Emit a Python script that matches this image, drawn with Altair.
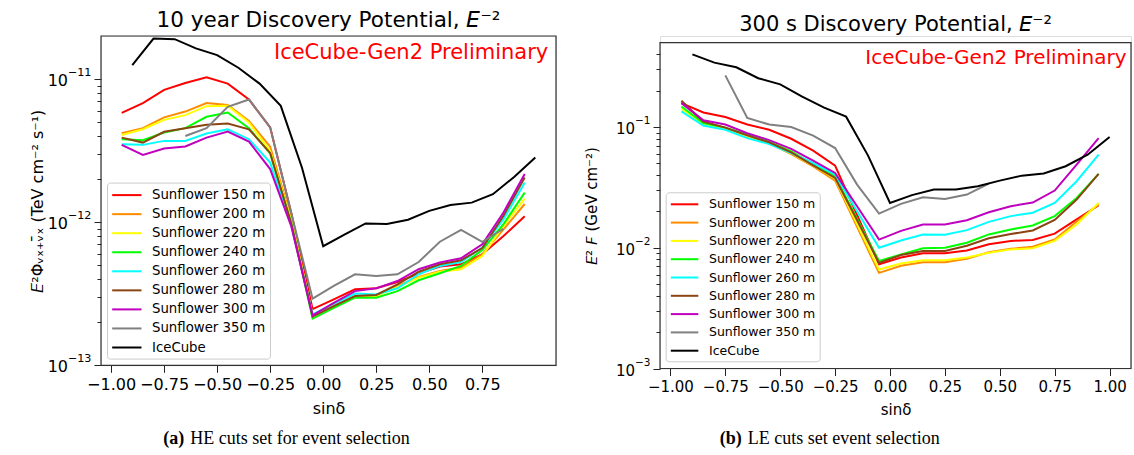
import altair as alt
import pandas as pd

# ---------------- data ----------------
SERIES = ["Sunflower 150 m", "Sunflower 200 m", "Sunflower 220 m", "Sunflower 240 m",
          "Sunflower 260 m", "Sunflower 280 m", "Sunflower 300 m", "Sunflower 350 m", "IceCube"]
COLORS = ["#ff0000", "#ff8c00", "#ffff00", "#00ff00", "#00ffff", "#8b4513", "#bf00bf", "#808080", "#000000"]

x_sf = [-0.95, -0.85, -0.75, -0.65, -0.55, -0.45, -0.35, -0.25, -0.15, -0.05,
        0.05, 0.15, 0.25, 0.35, 0.45, 0.55, 0.65, 0.75, 0.85, 0.95]
x_ic = [-0.9, -0.8, -0.7, -0.6, -0.5, -0.4, -0.3, -0.2, -0.1, 0.0,
        0.1, 0.2, 0.3, 0.4, 0.5, 0.6, 0.7, 0.8, 0.9, 1.0]
x_he350 = [-0.65, -0.55, -0.45, -0.35, -0.25, -0.15, -0.05, 0.05, 0.15, 0.25,
           0.35, 0.45, 0.55, 0.65, 0.75, 0.85]
x_le350 = [-0.75, -0.65, -0.55, -0.45, -0.35, -0.25, -0.15, -0.05, 0.05, 0.15,
           0.25, 0.35, 0.45]

# (a) HE cuts, 10 year discovery potential (TeV cm^-2 s^-1)
he150 = [5.8e-12, 6.8e-12, 8.4e-12, 9.4e-12, 1.03e-11, 9.3e-12, 7.2e-12, 4.6e-12, 1.15e-12, 2.47e-13,
         2.89e-13, 3.4e-13, 3.45e-13, 3.82e-13, 4.37e-13, 4.9e-13, 5.08e-13, 5.97e-13, 8.0e-13, 1.1e-12]
he200 = [4.19e-12, 4.54e-12, 5.4e-12, 5.93e-12, 6.8e-12, 6.6e-12, 5.1e-12, 3.37e-12, 1.05e-12, 2.23e-13,
         2.6e-13, 3.02e-13, 3.08e-13, 3.58e-13, 4.14e-13, 4.56e-13, 4.82e-13, 5.97e-13, 8.9e-13, 1.34e-12]
he220 = [4.07e-12, 4.46e-12, 5.19e-12, 5.6e-12, 6.47e-12, 6.5e-12, 4.97e-12, 3.15e-12, 1.02e-12, 2.23e-13,
         2.6e-13, 3.02e-13, 3.05e-13, 3.52e-13, 4.1e-13, 4.51e-13, 4.69e-13, 5.8e-13, 9.4e-13, 1.46e-12]
he240 = [3.8e-12, 3.74e-12, 4.23e-12, 4.54e-12, 5.45e-12, 5.84e-12, 4.54e-12, 3.02e-12, 0.98e-12, 2.12e-13,
         2.52e-13, 2.97e-13, 2.97e-13, 3.3e-13, 3.93e-13, 4.4e-13, 4.95e-13, 6.4e-13, 9.7e-13, 1.61e-12]
he260 = [3.51e-12, 3.47e-12, 3.7e-12, 3.7e-12, 4.17e-12, 4.46e-12, 3.8e-12, 2.61e-12, 0.95e-12, 2.27e-13,
         2.69e-13, 3.17e-13, 3.13e-13, 3.45e-13, 4.33e-13, 4.95e-13, 5.27e-13, 6.65e-13, 1.05e-12, 1.89e-12]
he280 = [3.9e-12, 3.6e-12, 4.28e-12, 4.54e-12, 4.79e-12, 4.9e-12, 4.46e-12, 3.05e-12, 0.97e-12, 2.19e-13,
         2.59e-13, 3.05e-13, 3.1e-13, 3.68e-13, 4.51e-13, 5.08e-13, 5.42e-13, 6.6e-13, 1.11e-12, 2.05e-12]
he300 = [3.47e-12, 2.95e-12, 3.27e-12, 3.38e-12, 3.9e-12, 4.3e-12, 3.66e-12, 2.35e-12, 0.93e-12, 2.23e-13,
         2.73e-13, 3.3e-13, 3.45e-13, 3.88e-13, 4.69e-13, 5.22e-13, 5.6e-13, 7.0e-13, 1.17e-12, 2.17e-12]
he350 = [4.0e-12, 4.54e-12, 6.4e-12, 7.2e-12, 4.6e-12, 1.15e-12, 2.92e-13, 3.59e-13, 4.32e-13, 4.2e-13,
         4.32e-13, 5.27e-13, 7.3e-13, 8.83e-13, 7.3e-13, 9.0e-13]
heIC = [1.25e-11, 1.92e-11, 1.90e-11, 1.64e-11, 1.47e-11, 1.2e-11, 9.3e-12, 6.5e-12, 2.4e-12, 6.8e-13,
        8.2e-13, 9.8e-13, 9.7e-13, 1.04e-12, 1.2e-12, 1.32e-12, 1.37e-12, 1.57e-12, 2.07e-12, 2.83e-12]

# (b) LE cuts, 300 s discovery potential (GeV cm^-2)
le150 = [0.158, 0.132, 0.121, 0.105, 0.095, 0.080, 0.0638, 0.048, 0.0187, 0.0073,
         0.0083, 0.009, 0.009, 0.0095, 0.0107, 0.0114, 0.0116, 0.0131, 0.0172, 0.0225]
le200 = [0.163, 0.110, 0.099, 0.0838, 0.0733, 0.0598, 0.0473, 0.036, 0.0149, 0.0062,
         0.0071, 0.0076, 0.0076, 0.0081, 0.0092, 0.0098, 0.0102, 0.0117, 0.0165, 0.0229]
le220 = [0.142, 0.106, 0.098, 0.0838, 0.0733, 0.0607, 0.048, 0.0374, 0.0157, 0.0066,
         0.0074, 0.0079, 0.0079, 0.0083, 0.0091, 0.0097, 0.0099, 0.0114, 0.0156, 0.0235]
le240 = [0.148, 0.108, 0.099, 0.0865, 0.0752, 0.063, 0.0494, 0.0392, 0.0174, 0.00776,
         0.0088, 0.0099, 0.01, 0.011, 0.0129, 0.0142, 0.0153, 0.0183, 0.0259, 0.0409]
le260 = [0.135, 0.103, 0.095, 0.081, 0.0724, 0.061, 0.0504, 0.0404, 0.0201, 0.01,
         0.0115, 0.0129, 0.0128, 0.014, 0.0164, 0.0183, 0.0195, 0.0235, 0.0356, 0.0591]
le280 = [0.165, 0.111, 0.099, 0.0853, 0.0747, 0.0618, 0.0482, 0.0379, 0.0169, 0.0075,
         0.0087, 0.0094, 0.0094, 0.0104, 0.012, 0.013, 0.0139, 0.017, 0.0251, 0.0409]
le300 = [0.158, 0.114, 0.105, 0.089, 0.078, 0.066, 0.0527, 0.0417, 0.0221, 0.0117,
         0.0138, 0.0156, 0.0156, 0.0169, 0.0197, 0.0221, 0.0237, 0.0298, 0.0489, 0.0811]
le350 = [0.268, 0.119, 0.105, 0.1, 0.085, 0.067, 0.0334, 0.0192, 0.0231, 0.0262,
         0.0254, 0.0276, 0.034]
leIC = [0.40, 0.342, 0.313, 0.254, 0.226, 0.179, 0.145, 0.122, 0.058, 0.0235,
        0.0273, 0.0304, 0.0304, 0.0324, 0.036, 0.0396, 0.0412, 0.0474, 0.059, 0.0827]

# tick labels
x_ticks_a = [-1.0, -0.75, -0.5, -0.25, 0.0, 0.25, 0.5, 0.75]
x_ticks_b = [-1.0, -0.75, -0.5, -0.25, 0.0, 0.25, 0.5, 0.75, 1.0]
dec_exp_a = [-13, -12, -11]
dec_exp_b = [-3, -2, -1]

FONT = "DejaVu Sans"


def long_df(xs_list, ys_list):
    rows = []
    for i, (name, xs, ys) in enumerate(zip(SERIES, xs_list, ys_list)):
        for x, y in zip(xs, ys):
            rows.append({"series": name, "x": x, "y": y, "k": i})
    return pd.DataFrame(rows)


def log_ticks(exps, top_mult):
    vals = []
    for e in exps[:-1]:
        for k in range(1, 10):
            vals.append(float(f"{k}e{e}"))
    for k in range(1, top_mult + 1):
        vals.append(float(f"{k}e{exps[-1]}"))
    return vals


def panel(df, W, H, top, ydom, exps, top_mult, xticks, ytitle, title, title_fs, title_off,
          tick_fs, exp_w, leg_fs, leg_x, leg_y, leg_r, leg_off, leg_rowpad,
          pre_x, pre_y, pre_fs, ytitle_x, cap_tag, cap_text, cap_x, cap_tx, cap_y):
    yvals = log_ticks(exps, top_mult)
    dec_vals = [float(f"1e{e}") for e in exps]
    test = "indexof([" + ",".join(repr(v) for v in dec_vals) + "], datum.value) >= 0"
    yscale = alt.Scale(type="log", domain=ydom, nice=False, range=[H, top])
    xscale = alt.Scale(domain=[-1.0475, 1.0975], nice=False, zero=False)

    xaxis = alt.Axis(values=xticks, format=".2f", tickSize=7, labelPadding=4,
                     labelFontSize=tick_fs, labelFont=FONT, labelColor="black",
                     title="sinδ", titleFont=FONT, titleFontSize=tick_fs, titleFontWeight="normal",
                     titleColor="black", titlePadding=8, grid=False, domain=False,
                     tickColor="#222", labelFlush=False, labelOverlap=False)
    yaxis = alt.Axis(values=yvals, labels=False,
                     tickSize={"condition": {"test": test, "value": 7}, "value": 4},
                     title=ytitle, titleFont=FONT, titleFontSize=tick_fs, titleFontWeight="normal",
                     titleColor="black", titleX=ytitle_x, titleY=(H + top) / 2, titleAngle=-90,
                     titleBaseline="middle", titleAlign="center",
                     grid=False, domain=False, tickColor="#222")
    legend = alt.Legend(orient="none", legendX=leg_x, legendY=leg_y, title=None,
                        symbolType="M-1,0L3,0", symbolSize=(2 * leg_r) ** 2, symbolStrokeWidth=2,
                        labelFont=FONT, labelFontSize=leg_fs, labelColor="black", labelOffset=leg_off,
                        rowPadding=leg_rowpad, padding=4, strokeColor="#cccccc",
                        fillColor="rgba(255,255,255,0.8)", cornerRadius=3, labelLimit=400)

    lines = alt.Chart(df).mark_line(strokeWidth=2, clip=True).encode(
        x=alt.X("x:Q", scale=xscale, axis=xaxis),
        y=alt.Y("y:Q", scale=yscale, axis=yaxis),
        color=alt.Color("series:N", scale=alt.Scale(domain=SERIES, range=COLORS), legend=legend),
        order=alt.Order("x:Q"),
    )

    # plot frame (matplotlib spines)
    frame = alt.Chart(pd.DataFrame({"f": [0]})).mark_rect(
        fillOpacity=0, stroke="#333333", strokeWidth=1.2
    ).encode(x=alt.value(0), x2=alt.value(W), y=alt.value(top), y2=alt.value(H))

    # decade tick labels written as 10 with a raised exponent
    ddf = pd.DataFrame({"y": dec_vals, "base": ["10"] * len(exps),
                        "exp": ["−" + str(-e) for e in exps]})
    lab_exp = alt.Chart(ddf).mark_text(
        align="right", baseline="middle", font=FONT, fontSize=round(tick_fs * 0.7, 1),
        color="black", dy=-6
    ).encode(text="exp:N", x=alt.value(-9.5), y=alt.Y("y:Q", scale=yscale, axis=yaxis))
    lab_base = alt.Chart(ddf).mark_text(
        align="right", baseline="middle", font=FONT, fontSize=tick_fs, color="black", dy=2
    ).encode(text="base:N", x=alt.value(-9.5 - exp_w), y=alt.Y("y:Q", scale=yscale, axis=yaxis))

    pre = alt.Chart(pd.DataFrame({"t": ["IceCube-Gen2 Preliminary"]})).mark_text(
        align="right", baseline="alphabetic", font=FONT, fontSize=pre_fs, color="#ff0000"
    ).encode(text="t:N", x=alt.value(pre_x), y=alt.value(pre_y))
    tag = alt.Chart(pd.DataFrame({"t": [cap_tag]})).mark_text(
        align="left", baseline="alphabetic", font="Liberation Serif", fontSize=18,
        fontWeight="bold", color="black"
    ).encode(text="t:N", x=alt.value(cap_x), y=alt.value(cap_y))
    cap = alt.Chart(pd.DataFrame({"t": [cap_text]})).mark_text(
        align="left", baseline="alphabetic", font="Liberation Serif", fontSize=18, color="black"
    ).encode(text="t:N", x=alt.value(cap_tx), y=alt.value(cap_y))

    return alt.layer(lines, frame, lab_exp, lab_base, pre, tag, cap).properties(
        width=W, height=H,
        title=alt.TitleParams(text=title, font=FONT, fontSize=title_fs, fontWeight="normal",
                              color="black", anchor="middle", offset=title_off),
    )


df_a = long_df([x_sf] * 7 + [x_he350, x_ic], [he150, he200, he220, he240, he260, he280, he300, he350, heIC])
df_b = long_df([x_sf] * 7 + [x_le350, x_ic], [le150, le200, le220, le240, le260, le280, le300, le350, leIC])

left = panel(df_a, 455, 329.3, 0, [1e-13, 2e-11], dec_exp_a, 1, x_ticks_a,
             "𝘌²Φᵥₓ₊ᵥ̄ₓ (TeV cm⁻² s⁻¹)", "10 year Discovery Potential, 𝘌⁻²", 21.5, 4,
             16, 23.5, 13.3, 6, 146.6, 7.33, 24, 4.05,
             447.3, 23.3, 21, -64, "(a)", "HE cuts set for event selection", 62.3, 89.3, 408)
right = panel(df_b, 471, 332.5, 6.7, [1e-3, 0.5], dec_exp_b, 4, x_ticks_b,
              "𝘌² 𝘍 (GeV cm⁻²)", "300 s Discovery Potential, 𝘌⁻²", 21, 1,
              15, 15.5, 12.5, 5.7, 156.3, 6.875, 23.25, 3.3,
              466.6, 27.8, 20, -69, "(b)", "LE cuts set event selection", 59.7, 87.7, 408)

chart = alt.hconcat(left, right, spacing=25).resolve_scale(color="independent").resolve_legend(
    color="independent"
).properties(
    padding={"left": 28, "top": 9, "right": 0, "bottom": 0}
).configure_view(stroke=None).configure(background="white")

chart.save("out.html", embed_options={"renderer": "svg", "actions": False})
